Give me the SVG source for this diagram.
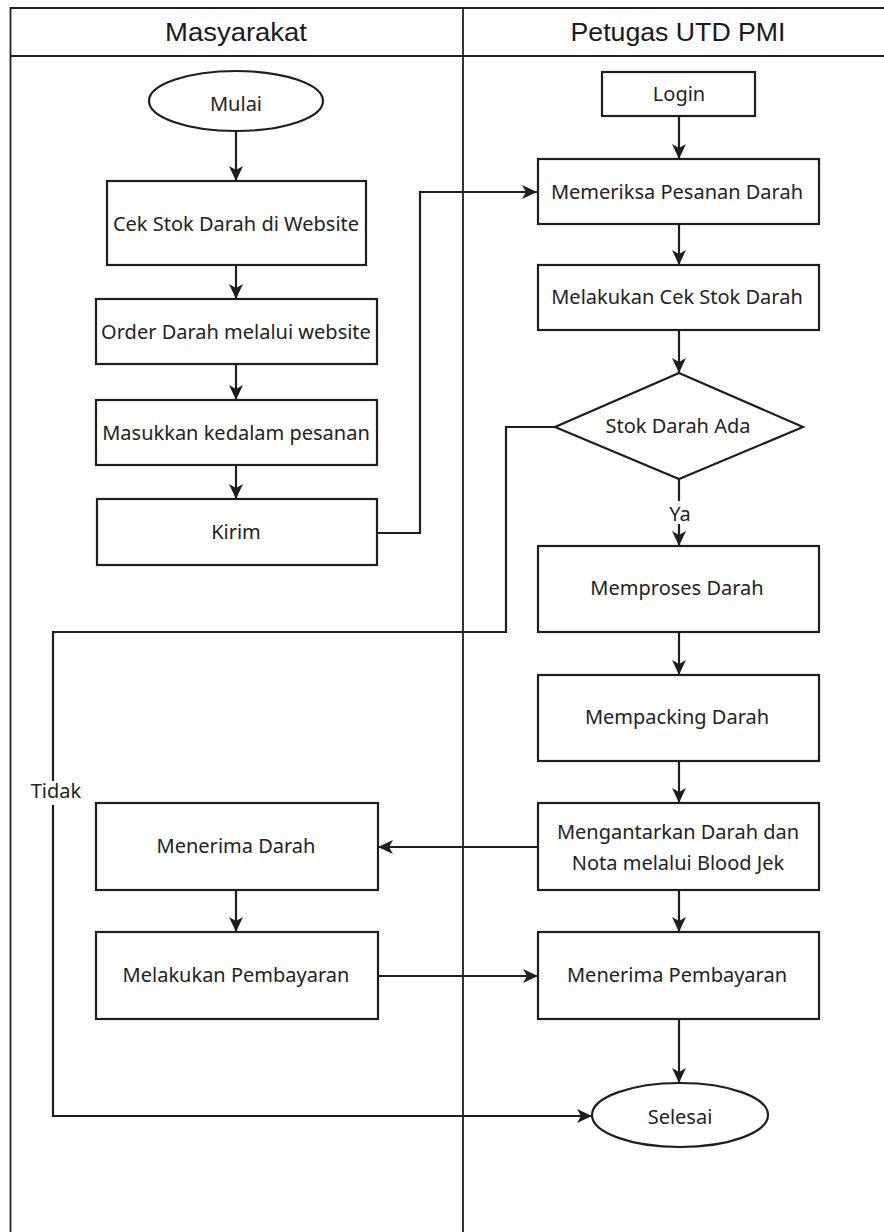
<svg xmlns="http://www.w3.org/2000/svg" width="884" height="1232" viewBox="0 0 884 1232">
  <style>
    .lane { fill: none; stroke: #1e1e1e; stroke-width: 1.8; }
    .box { fill: #ffffff; stroke: #1e1e1e; stroke-width: 2.2; }
    .edge { fill: none; stroke: #1e1e1e; stroke-width: 2.2; }
    .head { font-family: "Liberation Sans", Arial, sans-serif; font-size: 25px; fill: #1a1a1a; text-anchor: middle; }
    .lbl { font-family: "Noto Sans", "Open Sans", sans-serif; font-size: 20px; fill: #222222; text-anchor: middle; }
    .bg { fill: #ffffff; stroke: none; }
  </style>
  <defs>
    <marker id="arrow" markerUnits="userSpaceOnUse" markerWidth="16" markerHeight="16" refX="15" refY="8" orient="auto">
      <path d="M0,1 L15,8 L0,15 L4,8 Z" fill="#1e1e1e"/>
    </marker>
  </defs>

  <rect x="0" y="0" width="884" height="1232" fill="#ffffff"/>

  <!-- swimlanes -->
  <g id="lanes">
    <path class="lane" d="M10.5,1232 V8 H884"/>
    <path class="lane" d="M10.5,56 H884"/>
    <path class="lane" d="M463,8 V1232"/>
    <text class="head" x="236" y="41" textLength="142" lengthAdjust="spacingAndGlyphs">Masyarakat</text>
    <text class="head" x="678" y="41" textLength="215" lengthAdjust="spacingAndGlyphs">Petugas UTD PMI</text>
  </g>

  <!-- connectors -->
  <g id="connectors">
    <path class="edge" d="M236,131 V181" marker-end="url(#arrow)"/>
    <path class="edge" d="M236,265 V299" marker-end="url(#arrow)"/>
    <path class="edge" d="M236,364 V400" marker-end="url(#arrow)"/>
    <path class="edge" d="M236,465 V499" marker-end="url(#arrow)"/>
    <path class="edge" d="M377,533 H420 V192 H537" marker-end="url(#arrow)"/>
    <path class="edge" d="M679,116 V159" marker-end="url(#arrow)"/>
    <path class="edge" d="M679,224 V265" marker-end="url(#arrow)"/>
    <path class="edge" d="M679,330 V373" marker-end="url(#arrow)"/>
    <path class="edge" d="M679,479 V546" marker-end="url(#arrow)"/>
    <rect class="bg" x="664" y="501" width="30" height="23"/>
    <text class="lbl" x="680" y="521">Ya</text>
    <path class="edge" d="M555,427 H506 V632 H53 V1116 H592" marker-end="url(#arrow)"/>
    <rect class="bg" x="28" y="781" width="56" height="24"/>
    <text class="lbl" x="56" y="798">Tidak</text>
    <path class="edge" d="M679,632 V675" marker-end="url(#arrow)"/>
    <path class="edge" d="M679,761 V803" marker-end="url(#arrow)"/>
    <path class="edge" d="M538,847 H378" marker-end="url(#arrow)"/>
    <path class="edge" d="M679,890 V932" marker-end="url(#arrow)"/>
    <path class="edge" d="M236,890 V932" marker-end="url(#arrow)"/>
    <path class="edge" d="M378,976 H538" marker-end="url(#arrow)"/>
    <path class="edge" d="M679,1019 V1083" marker-end="url(#arrow)"/>
  </g>

  <!-- Masyarakat lane -->
  <g id="mulai">
    <ellipse class="box" cx="236" cy="101" rx="87" ry="30"/>
    <text class="lbl" x="236" y="111">Mulai</text>
  </g>
  <g id="cek-stok">
    <rect class="box" x="107" y="181" width="259" height="84"/>
    <text class="lbl" x="236" y="231">Cek Stok Darah di Website</text>
  </g>
  <g id="order-darah">
    <rect class="box" x="96" y="299" width="281" height="65"/>
    <text class="lbl" x="236" y="339">Order Darah melalui website</text>
  </g>
  <g id="masukkan">
    <rect class="box" x="96" y="400" width="281" height="65"/>
    <text class="lbl" x="236" y="440">Masukkan kedalam pesanan</text>
  </g>
  <g id="kirim">
    <rect class="box" x="97" y="499" width="280" height="66"/>
    <text class="lbl" x="236" y="539">Kirim</text>
  </g>
  <g id="menerima-darah">
    <rect class="box" x="96" y="803" width="282" height="87"/>
    <text class="lbl" x="236" y="853">Menerima Darah</text>
  </g>
  <g id="melakukan-pembayaran">
    <rect class="box" x="96" y="932" width="282" height="87"/>
    <text class="lbl" x="236" y="982">Melakukan Pembayaran</text>
  </g>

  <!-- Petugas UTD PMI lane -->
  <g id="login">
    <rect class="box" x="602" y="72" width="153" height="44"/>
    <text class="lbl" x="679" y="101">Login</text>
  </g>
  <g id="memeriksa">
    <rect class="box" x="538" y="159" width="281" height="65"/>
    <text class="lbl" x="677" y="199">Memeriksa Pesanan Darah</text>
  </g>
  <g id="cek-stok-petugas">
    <rect class="box" x="538" y="265" width="281" height="65"/>
    <text class="lbl" x="677" y="304">Melakukan Cek Stok Darah</text>
  </g>
  <g id="stok-ada">
    <polygon class="box" points="679,373 803,427 679,479 555,427"/>
    <text class="lbl" x="678" y="433">Stok Darah Ada</text>
  </g>
  <g id="memproses">
    <rect class="box" x="538" y="546" width="281" height="86"/>
    <text class="lbl" x="677" y="595">Memproses Darah</text>
  </g>
  <g id="mempacking">
    <rect class="box" x="538" y="675" width="281" height="86"/>
    <text class="lbl" x="677" y="724" font-size="21">Mempacking Darah</text>
  </g>
  <g id="mengantarkan">
    <rect class="box" x="538" y="803" width="281" height="87"/>
    <text class="lbl" x="678" y="839">Mengantarkan Darah dan</text>
    <text class="lbl" x="678" y="870">Nota melalui Blood Jek</text>
  </g>
  <g id="menerima-pembayaran">
    <rect class="box" x="538" y="932" width="281" height="87"/>
    <text class="lbl" x="677" y="982">Menerima Pembayaran</text>
  </g>
  <g id="selesai">
    <ellipse class="box" cx="680" cy="1115" rx="88" ry="32"/>
    <text class="lbl" x="680" y="1124">Selesai</text>
  </g>
</svg>
